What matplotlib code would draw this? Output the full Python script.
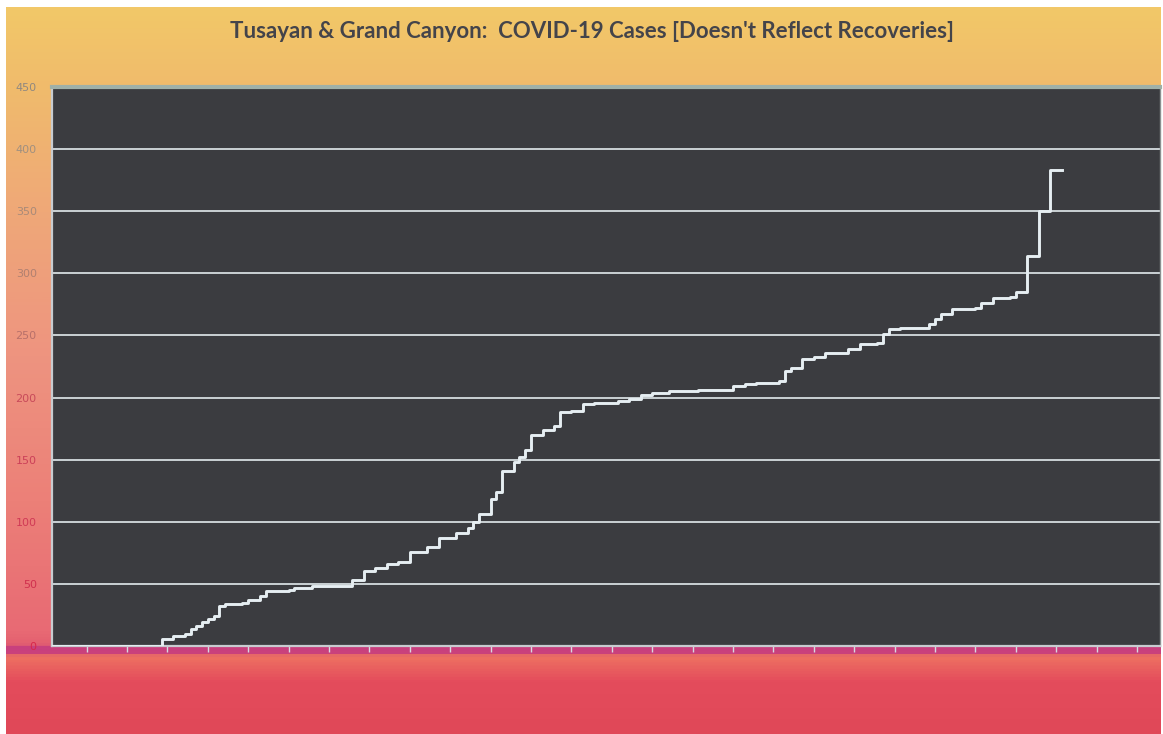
import numpy as np
import matplotlib.pyplot as plt
from matplotlib.colors import LinearSegmentedColormap

# cumulative cases (day of change, new total)
days = [0, 19, 21, 23, 24, 25, 26, 27, 28, 29, 30, 33, 34, 36, 37, 41, 42, 45,
        52, 54, 56, 58, 60, 62, 65, 67, 70, 72, 73, 74, 76, 77, 78, 80, 81, 82,
        83, 85, 87, 88, 90, 92, 94, 98, 100, 102, 104, 107, 112, 118, 120, 122,
        126, 127, 128, 130, 132, 134, 138, 140, 143, 144, 145, 147, 152, 153,
        154, 156, 160, 161, 163, 166, 167, 169, 171, 173, 175]
cases = [0, 6, 8, 10, 14, 16, 19, 22, 24, 32, 34, 35, 37, 40, 44, 45, 47, 48,
         53, 60, 63, 66, 68, 76, 80, 87, 91, 95, 100, 106, 118, 124, 141, 148, 152, 158,
         170, 174, 177, 188, 189, 195, 196, 197, 199, 202, 204, 205, 206, 209, 211, 212,
         213, 221, 224, 231, 233, 236, 239, 243, 244, 251, 255, 256, 259, 263,
         267, 271, 272, 276, 280, 281, 285, 314, 350, 383, 383]

y_ticks = [0, 50, 100, 150, 200, 250, 300, 350, 400, 450]
y_labels = ["0", "50", "100", "150", "200", "250", "300", "350", "400", "450"]
label_cols = ["#d8284a", "#d0304e", "#d03a55", "#cc4058", "#c84a5a",
              "#b8706a", "#b08070", "#a88a78", "#a09080", "#908880"]
title = "Tusayan & Grand Canyon:  COVID-19 Cases [Doesn't Reflect Recoveries]"

W, H = 1163, 734
fig = plt.figure(figsize=(W / 100, H / 100), dpi=100)
fig.patch.set_facecolor("white")

# scanned-looking gradient background
bg = fig.add_axes([6 / W, 0, 1 - 8 / W, 1 - 7 / H])
bg.set_axis_off()
grad = LinearSegmentedColormap.from_list("bg", [
    (0.0, "#f2c868"), (0.11, "#f0bb6c"), (0.28, "#efa878"), (0.48, "#ee9480"),
    (0.68, "#ec8078"), (0.86, "#e86a74"), (0.878, "#e46070"), (0.882, "#c8407e"),
    (0.89, "#c8407e"), (0.895, "#ee7262"), (0.93, "#e44c5c"), (1.0, "#e04858")])
bg.imshow(np.linspace(0, 1, 700).reshape(-1, 1), aspect="auto", cmap=grad,
          extent=[0, 1, 0, 1])

ax = fig.add_axes([52 / W, (H - 646) / H, (1160 - 52) / W, (646 - 87) / H])
ax.set_facecolor("#3b3c40")
ax.plot(days, cases, drawstyle="steps-post", color="#e6eef2", lw=2.1, zorder=3)

ax.set_xlim(0, 192)
ax.set_ylim(0, 450)
ax.set_yticks(y_ticks)
ax.set_yticklabels(y_labels, fontsize=8, family="DejaVu Sans")
for lab, c in zip(ax.get_yticklabels(), label_cols):
    lab.set_color(c)
ax.tick_params(axis="y", length=0, pad=11)
ax.set_xticks(np.arange(6, 192, 7))
ax.set_xticklabels([])
ax.tick_params(axis="x", length=4, color="#d8d8e0", direction="out", width=1)

for v in y_ticks[1:-1]:
    ax.axhline(v, color="#d6dde0", lw=1.3, zorder=1)

for s in ["left", "bottom"]:
    ax.spines[s].set_color("#c8ccd0")
    ax.spines[s].set_linewidth(1.6)
ax.spines["top"].set_color("#9fb0a8")
ax.spines["top"].set_linewidth(3)
ax.spines["right"].set_color("#8a9090")
ax.spines["right"].set_linewidth(1)

fig.text(592 / W, 1 - 32 / H, title, ha="center", va="center", fontsize=16,
         family="Lato", fontweight="bold", color="#44444a")

fig.savefig("out.png", dpi=100)
